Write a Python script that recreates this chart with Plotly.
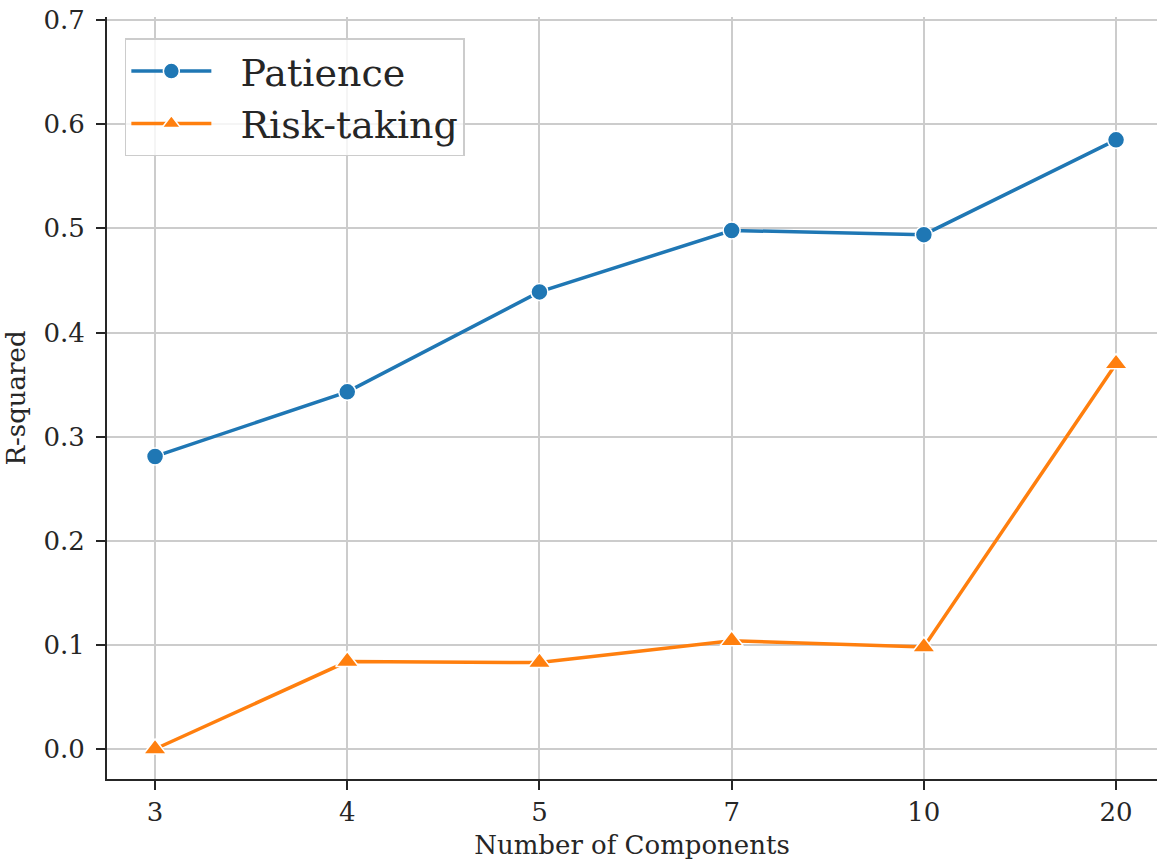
import plotly.graph_objects as go

components = ["3", "4", "5", "7", "10", "20"]
patience = [0.281, 0.343, 0.439, 0.498, 0.494, 0.585]
risk_taking = [0.000, 0.084, 0.083, 0.104, 0.098, 0.370]
y_ticks = [0.0, 0.1, 0.2, 0.3, 0.4, 0.5, 0.6, 0.7]

FONT = "DejaVu Serif"
DARK = "#262626"
GRID = "#cccccc"
GAP = "\u00a0\u00a0"

fig = go.Figure()
fig.add_trace(go.Scatter(
    x=components, y=patience, name=GAP + "Patience", mode="lines+markers",
    line=dict(color="#1f77b4", width=3.5),
    marker=dict(symbol="circle", size=17, color="#1f77b4",
                line=dict(color="white", width=1.5)),
))
fig.add_trace(go.Scatter(
    x=components, y=risk_taking, name=GAP + "Risk-taking", mode="lines+markers",
    line=dict(color="#ff7f0e", width=3.5),
    marker=dict(symbol="triangle-up", size=20, color="#ff7f0e",
                line=dict(color="white", width=1.5)),
))

fig.update_layout(
    width=1157, height=862,
    margin=dict(l=107, r=0, t=17, b=83),
    paper_bgcolor="white", plot_bgcolor="white",
    font=dict(family=FONT, size=26, color=DARK),
    showlegend=True,
    legend=dict(
        x=0.017, y=0.972, xanchor="left", yanchor="top",
        bgcolor="rgba(255,255,255,0.8)", bordercolor=GRID, borderwidth=1.5,
        font=dict(family=FONT, size=38, color=DARK),
        itemwidth=80, tracegroupgap=0,
    ),
)
fig.update_xaxes(
    type="category", categoryorder="array", categoryarray=components,
    range=[-0.25, 5.213], automargin=False,
    showgrid=True, gridcolor=GRID, gridwidth=1.5,
    showline=True, linecolor=DARK, linewidth=2,
    ticks="outside", ticklen=9, tickwidth=2, tickcolor=DARK,
    tickfont=dict(family=FONT, size=26, color=DARK),
    title=dict(text="Number of Components", standoff=10,
               font=dict(family=FONT, size=26, color=DARK)),
    zeroline=False,
)
fig.update_yaxes(
    range=[-0.0288, 0.703], automargin=False,
    tickvals=y_ticks, ticktext=[f"{v:.1f}" for v in y_ticks],
    ticklabeloverflow="allow",
    showgrid=True, gridcolor=GRID, gridwidth=1.5,
    showline=True, linecolor=DARK, linewidth=2,
    ticks="outside", ticklen=9, tickwidth=2, tickcolor=DARK,
    ticklabelstandoff=6,
    tickfont=dict(family=FONT, size=26, color=DARK),
    title=dict(text="R-squared", standoff=10,
               font=dict(family=FONT, size=26, color=DARK)),
    zeroline=False,
)

# remove the default 8px page margin so the figure fills the window exactly
fig.write_html("out.html",
               config={"displayModeBar": False},
               post_script="document.body.style.margin='0';document.body.style.overflow='hidden';")
